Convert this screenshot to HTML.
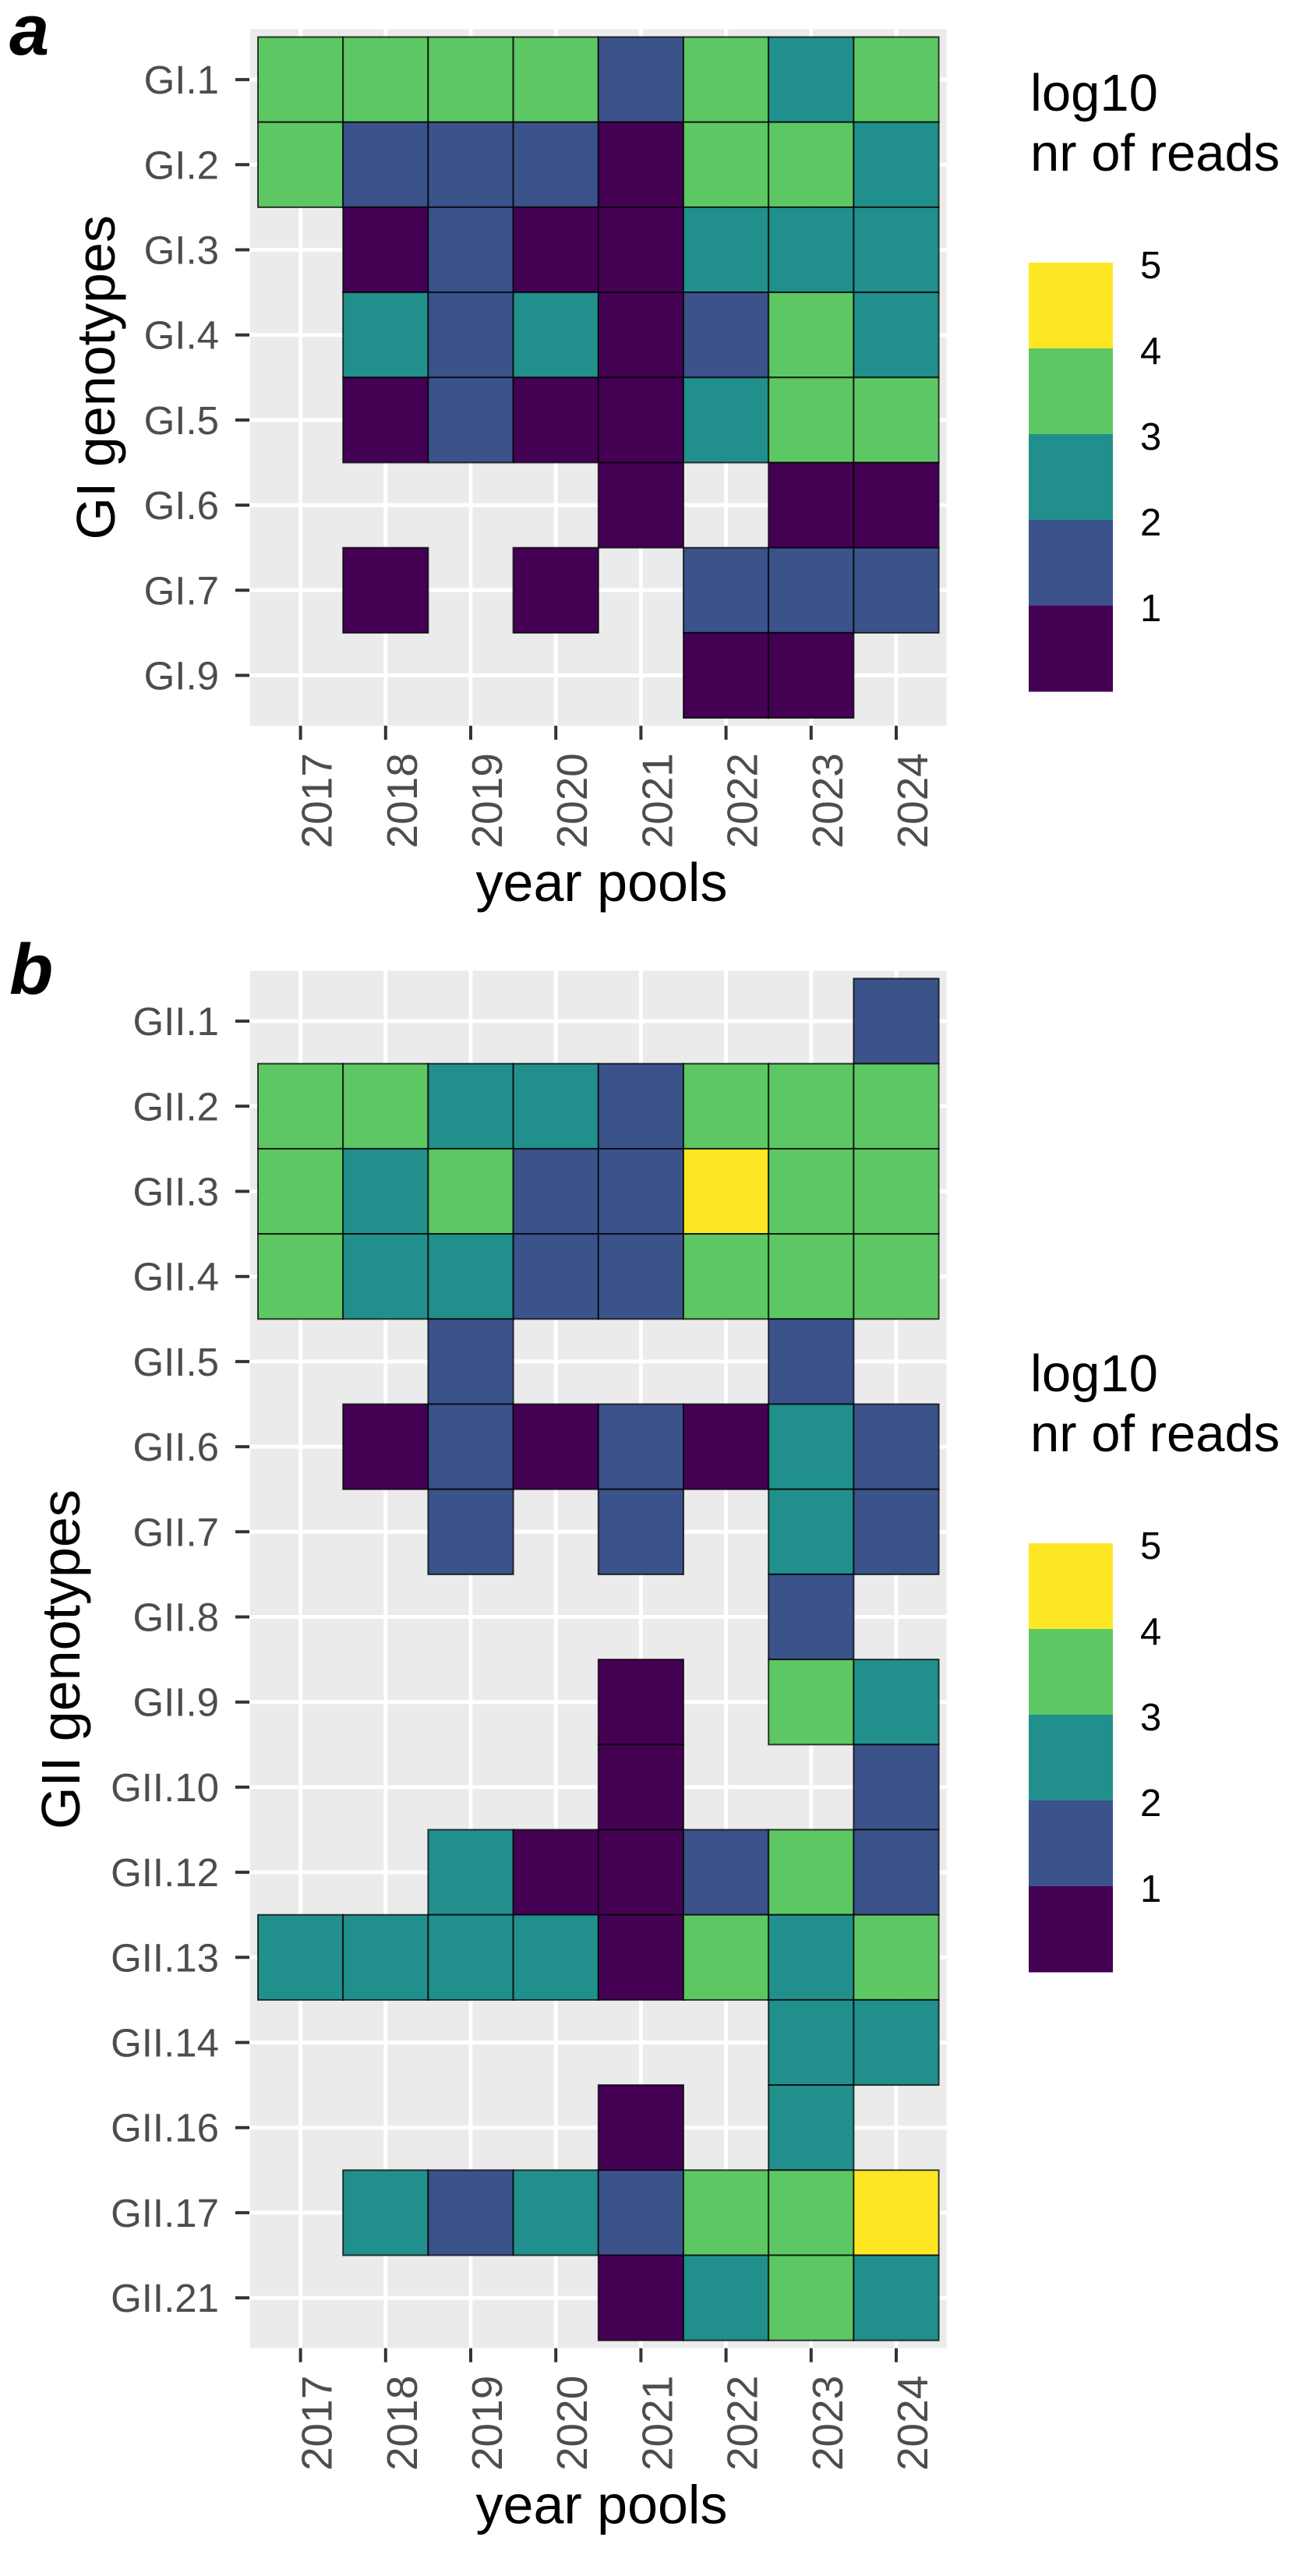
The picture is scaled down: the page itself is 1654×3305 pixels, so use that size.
<!DOCTYPE html>
<html><head><meta charset="utf-8"><style>
html,body{margin:0;padding:0;background:#fff}
svg{display:block;font-family:"Liberation Sans",Arial,sans-serif}
</style></head><body>
<svg id="fig" width="1654" height="3305" viewBox="0 0 1654 3305" xmlns="http://www.w3.org/2000/svg"></svg>
<script>
const years = ["2017","2018","2019","2020","2021","2022","2023","2024"];
const giGenotypes = ["GI.1","GI.2","GI.3","GI.4","GI.5","GI.6","GI.7","GI.9"];
// log10 read values (estimated from colour bins); null = absent
const giValues = [
 [3.5,3.5,3.5,3.5,1.5,3.5,2.5,3.5],
 [3.5,1.5,1.5,1.5,0.5,3.5,3.5,2.5],
 [null,0.5,1.5,0.5,0.5,2.5,2.5,2.5],
 [null,2.5,1.5,2.5,0.5,1.5,3.5,2.5],
 [null,0.5,1.5,0.5,0.5,2.5,3.5,3.5],
 [null,null,null,null,0.5,null,0.5,0.5],
 [null,0.5,null,0.5,null,1.5,1.5,1.5],
 [null,null,null,null,null,0.5,0.5,null]
];
const giiGenotypes = ["GII.1","GII.2","GII.3","GII.4","GII.5","GII.6","GII.7","GII.8","GII.9","GII.10","GII.12","GII.13","GII.14","GII.16","GII.17","GII.21"];
const giiValues = [
 [null,null,null,null,null,null,null,1.5],
 [3.5,3.5,2.5,2.5,1.5,3.5,3.5,3.5],
 [3.5,2.5,3.5,1.5,1.5,4.5,3.5,3.5],
 [3.5,2.5,2.5,1.5,1.5,3.5,3.5,3.5],
 [null,null,1.5,null,null,null,1.5,null],
 [null,0.5,1.5,0.5,1.5,0.5,2.5,1.5],
 [null,null,1.5,null,1.5,null,2.5,1.5],
 [null,null,null,null,null,null,1.5,null],
 [null,null,null,null,0.5,null,3.5,2.5],
 [null,null,null,null,0.5,null,null,1.5],
 [null,null,2.5,0.5,0.5,1.5,3.5,1.5],
 [2.5,2.5,2.5,2.5,0.5,3.5,2.5,3.5],
 [null,null,null,null,null,null,2.5,2.5],
 [null,null,null,null,0.5,null,2.5,null],
 [null,2.5,1.5,2.5,1.5,3.5,3.5,4.5],
 [null,null,null,null,0.5,2.5,3.5,2.5]
];
const legendBreaks = [5,4,3,2,1];
const viridis = ["#440154","#3B528B","#21908C","#5DC863","#FDE725"];

const NS="http://www.w3.org/2000/svg";
const svg=document.getElementById('fig');
function mk(tag,attrs,parent,text){const e=document.createElementNS(NS,tag);for(const k in attrs)e.setAttribute(k,attrs[k]);if(text!==undefined)e.textContent=text;(parent||svg).appendChild(e);return e;}
function colorOf(v){let i=Math.floor(v);if(i<0)i=0;if(i>4)i=4;return viridis[i];}

const T=109.2, X0=331;
function xPos(i){return X0+i*T;}

function panel(key,letter,letterY,genos,vals,top,yTitle,yTitleX,legTop){
  const g=mk('g',{});
  
  
  const n=genos.length;
  const yPos=j=>top+j*T;
  const bg=mk('rect',{x:X0-10,y:top-10,width:8*T+20,height:n*T+20,fill:'#EBEBEB'},g);
  
  
  for(let i=0;i<8;i++){const l=mk('line',{x1:xPos(i)+T/2,x2:xPos(i)+T/2,y1:top-10,y2:top+n*T+10,stroke:'#fff','stroke-width':5},g);
    }
  for(let j=0;j<n;j++){const l=mk('line',{y1:yPos(j)+T/2,y2:yPos(j)+T/2,x1:X0-10,x2:X0+8*T+10,stroke:'#fff','stroke-width':5},g);
    }
  for(let j=0;j<n;j++)for(let i=0;i<8;i++){const v=vals[j][i];if(v===null)continue;
    const r=mk('rect',{x:xPos(i),y:yPos(j),width:T,height:T,fill:colorOf(v),stroke:'#000','stroke-opacity':0.75,'stroke-width':2},g);
    
    }
  for(let j=0;j<n;j++){const cy=yPos(j)+T/2;
    const tk=mk('line',{x1:302,x2:320,y1:cy,y2:cy,stroke:'#333','stroke-width':4},g);
    
    const t=mk('text',{x:281,y:cy+18,'text-anchor':'end','font-size':51,fill:'#4D4D4D'},g,genos[j]);
    }
  const bottom=top+n*T+10;
  for(let i=0;i<8;i++){const cx=xPos(i)+T/2;
    const tk=mk('line',{x1:cx,x2:cx,y1:bottom,y2:bottom+18,stroke:'#333','stroke-width':4},g);
    
    const t=mk('text',{x:0,y:0,'text-anchor':'end','font-size':55,fill:'#4D4D4D',transform:`translate(${cx+40},${bottom+35}) rotate(-90)`},g,years[i]);
    }
  const xt=mk('text',{x:772,y:bottom+225,'text-anchor':'middle','font-size':70,fill:'#000'},g,'year pools');
  
  const yc=top+n*T/2;
  const yt=mk('text',{x:0,y:0,'text-anchor':'middle','font-size':70,fill:'#000',transform:`translate(${yTitleX},${yc}) rotate(-90)`},g,yTitle);
  
  const lt=mk('text',{x:12,y:letterY,'font-size':92,'font-weight':'bold','font-style':'italic',fill:'#000'},g,letter);
  
  // legend
  const lg=mk('g',{},g);
  
  const l1=mk('text',{x:1322,y:legTop,'font-size':67,fill:'#000'},lg,'log10');
  
  const l2=mk('text',{x:1322,y:legTop+77,'font-size':67,fill:'#000'},lg,'nr of reads');
  
  const barTop=legTop+195;
  for(let k=0;k<5;k++){
    const r=mk('rect',{x:1320,y:barTop+k*110,width:108,height:110.5,fill:viridis[4-k]},lg);
    
    const t=mk('text',{x:1463,y:barTop+k*110+20,'font-size':49,fill:'#000'},lg,legendBreaks[k]);
    
  }
}
panel('a','a',70,giGenotypes,giValues,47.5,'GI genotypes',147,142);
panel('b','b',1275,giiGenotypes,giiValues,1255.5,'GII genotypes',102,1785);
</script>
</body></html>
